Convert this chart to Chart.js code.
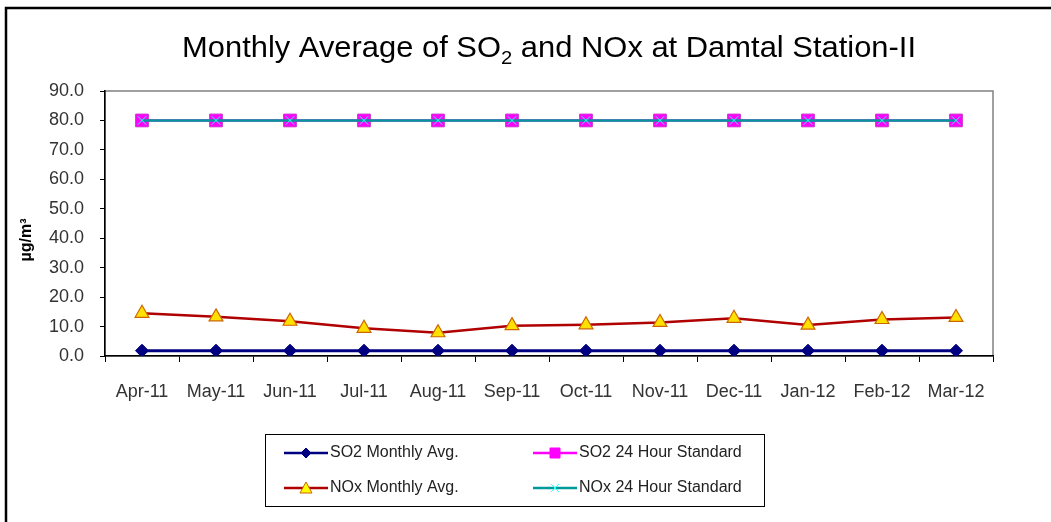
<!DOCTYPE html>
<html lang="en">
<head>
  <meta charset="UTF-8" />
  <title>Monthly Average of SO2 and NOx at Damtal Station-II</title>
  <script src="https://cdn.jsdelivr.net/npm/chart.js"></script>
  <style>
    body { margin: 0; background: #fff; }
    .wrap { position: relative; width: 1051px; height: 522px; }
  </style>
</head>
<body>
  <div class="wrap">
    <canvas id="chart" width="1051" height="522"></canvas>
  </div>

  <script>
    // Data
    const months = ['Apr-11', 'May-11', 'Jun-11', 'Jul-11', 'Aug-11', 'Sep-11',
                    'Oct-11', 'Nov-11', 'Dec-11', 'Jan-12', 'Feb-12', 'Mar-12'];
    const so2Avg = [1.8, 1.8, 1.8, 1.8, 1.8, 1.8, 1.8, 1.8, 1.8, 1.8, 1.8, 1.8];
    const so2Std = [80, 80, 80, 80, 80, 80, 80, 80, 80, 80, 80, 80];
    const noxAvg = [14.5, 13.3, 11.8, 9.4, 7.9, 10.3, 10.6, 11.4, 12.8, 10.5, 12.4, 13.1];
    const noxStd = [80, 80, 80, 80, 80, 80, 80, 80, 80, 80, 80, 80];
    const yTicks = [0, 10, 20, 30, 40, 50, 60, 70, 80, 90];

    const FONT = "'Liberation Sans', Arial, sans-serif";

    // legend entries, drawn by the plugin below
    const legendItems = [
      { text: 'SO2 Monthly Avg.', col: 0, row: 0, line: '#000080', marker: 'diamond', fill: '#000080', stroke: '#000080' },
      { text: 'SO2 24 Hour Standard', col: 1, row: 0, line: '#FF00FF', marker: 'square', fill: '#FF00FF', stroke: '#FF00FF' },
      { text: 'NOx Monthly Avg.', col: 0, row: 1, line: '#B00000', marker: 'triangle', fill: '#FFFF00', stroke: '#CC6600' },
      { text: 'NOx 24 Hour Standard', col: 1, row: 1, line: '#009999', marker: 'cross', fill: null, stroke: '#33FFFF' }
    ];

    function drawMarker(ctx, type, x, y, fill, stroke) {
      ctx.save();
      ctx.beginPath();
      if (type === 'diamond') {
        ctx.moveTo(x, y - 5); ctx.lineTo(x + 5, y); ctx.lineTo(x, y + 5); ctx.lineTo(x - 5, y);
        ctx.closePath();
      } else if (type === 'square') {
        ctx.rect(x - 5, y - 5, 10, 10);
      } else if (type === 'triangle') {
        ctx.moveTo(x, y - 6); ctx.lineTo(x + 6, y + 5); ctx.lineTo(x - 6, y + 5);
        ctx.closePath();
      } else if (type === 'cross') {
        ctx.moveTo(x - 4, y - 4); ctx.lineTo(x + 4, y + 4);
        ctx.moveTo(x + 4, y - 4); ctx.lineTo(x - 4, y + 4);
      }
      if (fill) { ctx.fillStyle = fill; ctx.fill(); }
      ctx.strokeStyle = stroke;
      ctx.lineWidth = 1;
      ctx.stroke();
      ctx.restore();
    }

    const decorPlugin = {
      id: 'decor',
      beforeDraw(chart) {
        const ctx = chart.ctx;
        ctx.save();
        ctx.fillStyle = '#fff';
        ctx.fillRect(0, 0, chart.width, chart.height);
        // outer frame (top and left only, as in the picture)
        ctx.strokeStyle = '#000';
        ctx.lineWidth = 2.5;
        ctx.beginPath();
        ctx.moveTo(6, chart.height);
        ctx.lineTo(6, 8);
        ctx.lineTo(chart.width, 8);
        ctx.stroke();
        // plot area box
        const a = chart.chartArea;
        ctx.strokeStyle = '#808080';
        ctx.lineWidth = 1.5;
        ctx.strokeRect(a.left, a.top, a.right - a.left, a.bottom - a.top);
        ctx.restore();
      },
      afterDraw(chart) {
        const ctx = chart.ctx;
        ctx.save();

        // title with subscript 2
        const parts = [['Monthly Average of SO', 26, 0], ['2', 17, 7], [' and NOx at Damtal Station-II', 26, 0]];
        let total = 0;
        parts.forEach(p => { ctx.font = p[1] + 'px ' + FONT; total += ctx.measureText(p[0]).width; });
        const targetW = 734;
        const sx = targetW / total;
        ctx.translate(549 - targetW / 2, 57);
        ctx.scale(sx, 1.12);
        ctx.fillStyle = '#000';
        ctx.textBaseline = 'alphabetic';
        let x = 0;
        parts.forEach(p => {
          ctx.font = p[1] + 'px ' + FONT;
          ctx.fillText(p[0], x, p[2] / 1.12);
          x += ctx.measureText(p[0]).width;
        });
        ctx.setTransform(1, 0, 0, 1, 0, 0);

        // y axis title
        ctx.save();
        ctx.translate(27, 240);
        ctx.rotate(-Math.PI / 2);
        ctx.font = 'bold 16px ' + FONT;
        ctx.fillStyle = '#000';
        ctx.textAlign = 'center';
        ctx.textBaseline = 'middle';
        ctx.fillText('\u00B5g/m\u00B3', 0, 0);
        ctx.restore();

        // legend
        ctx.strokeStyle = '#000';
        ctx.lineWidth = 1;
        ctx.strokeRect(265.5, 434.5, 499, 72);
        ctx.font = '16px ' + FONT;
        ctx.fillStyle = '#222';
        ctx.textBaseline = 'middle';
        legendItems.forEach(it => {
          const lx = it.col === 0 ? 284 : 533;
          const ly = it.row === 0 ? 453 : 488;
          ctx.strokeStyle = it.line;
          ctx.lineWidth = 2.5;
          ctx.beginPath();
          ctx.moveTo(lx, ly);
          ctx.lineTo(lx + 44, ly);
          ctx.stroke();
          drawMarker(ctx, it.marker, lx + 22, ly, it.fill, it.stroke);
          ctx.fillStyle = '#222';
          ctx.fillText(it.text, lx + 46, ly);
        });
        ctx.restore();
      }
    };

    new Chart(document.getElementById('chart'), {
      type: 'line',
      data: {
        labels: months,
        datasets: [
          {
            label: 'NOx 24 Hour Standard',
            data: noxStd,
            borderColor: '#009999',
            borderWidth: 2.5,
            pointStyle: 'crossRot',
            pointRadius: 6,
            pointBorderColor: '#33FFFF',
            pointBorderWidth: 1,
            tension: 0
          },
          {
            label: 'SO2 24 Hour Standard',
            data: so2Std,
            borderColor: '#FF00FF',
            borderWidth: 2.5,
            pointStyle: 'rect',
            pointRadius: 9,
            pointBackgroundColor: '#FF00FF',
            pointBorderColor: '#CC33CC',
            pointBorderWidth: 1,
            tension: 0
          },
          {
            label: 'NOx Monthly Avg.',
            data: noxAvg,
            borderColor: '#B00000',
            borderWidth: 2.5,
            pointStyle: 'triangle',
            pointRadius: 8,
            pointBackgroundColor: '#FFE000',
            pointBorderColor: '#CC6600',
            pointBorderWidth: 1.2,
            tension: 0
          },
          {
            label: 'SO2 Monthly Avg.',
            data: so2Avg,
            borderColor: '#000080',
            borderWidth: 3,
            pointStyle: 'rectRot',
            pointRadius: 6.5,
            pointBackgroundColor: '#000080',
            pointBorderColor: '#000080',
            pointBorderWidth: 1,
            tension: 0
          }
        ]
      },
      options: {
        responsive: false,
        animation: false,
        layout: { padding: { left: 0, top: 91, right: 58, bottom: 116 } },
        plugins: {
          legend: { display: false },
          title: { display: false },
          tooltip: { enabled: false }
        },
        scales: {
          x: {
            offset: true,
            afterFit(scale) { scale.height = 50; },
            grid: { offset: true, drawOnChartArea: false, drawTicks: true, tickLength: 6, color: '#000' },
            border: { color: '#000', width: 1.5 },
            ticks: { color: '#333', font: { family: FONT, size: 18 }, padding: 19, maxRotation: 0, autoSkip: false }
          },
          y: {
            min: 0,
            max: 90,
            afterFit(scale) { scale.width = 105; },
            afterBuildTicks(scale) { scale.ticks = yTicks.map(v => ({ value: v })); },
            grid: { drawOnChartArea: false, drawTicks: true, tickLength: 5, color: '#000' },
            border: { color: '#000', width: 1.5 },
            ticks: { color: '#333', font: { family: FONT, size: 18 }, padding: 16, callback: v => v.toFixed(1) }
          }
        }
      },
      plugins: [decorPlugin]
    });
  </script>
</body>
</html>
